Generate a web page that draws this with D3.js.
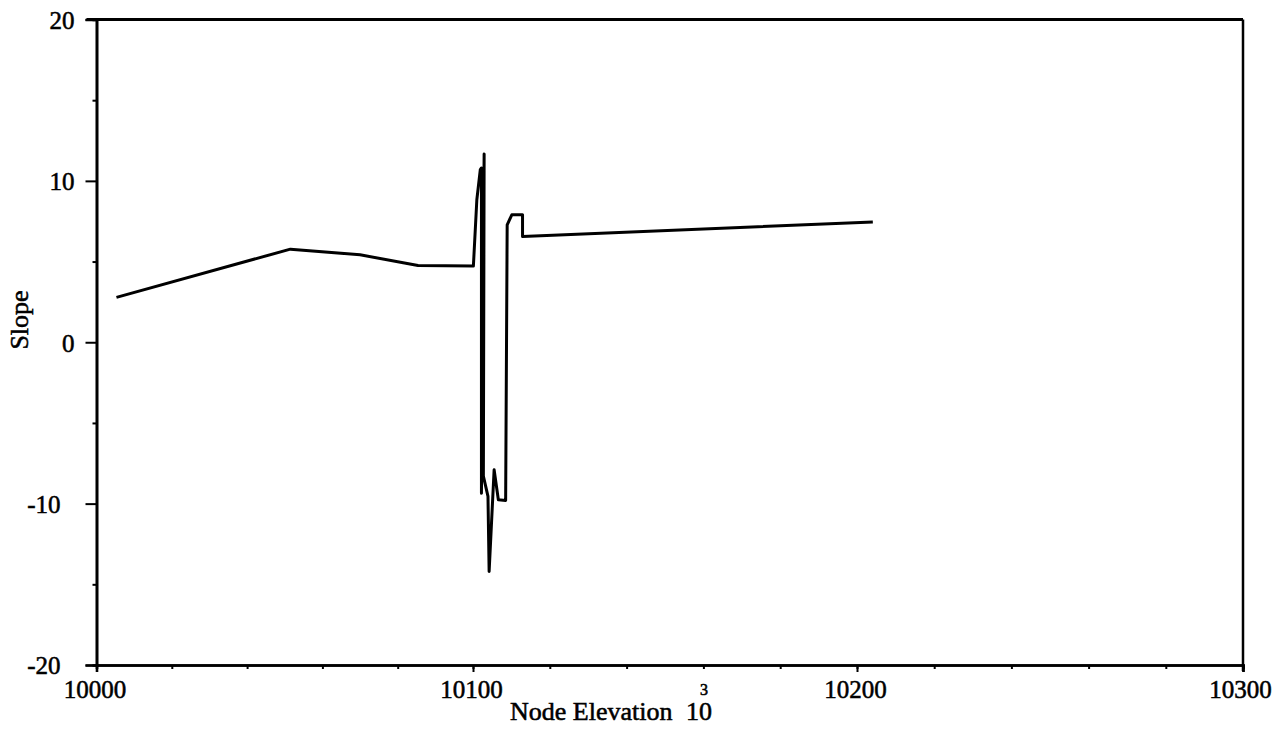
<!DOCTYPE html>
<html>
<head>
<meta charset="utf-8">
<script src="https://cdn.jsdelivr.net/npm/d3@7"></script>
<style>
  html, body { margin: 0; padding: 0; background: #fff; }
  svg { display: block; }
  text { font-family: "Liberation Serif", "Times New Roman", serif; fill: #000; stroke: #000; stroke-width: 0.55px; }
</style>
</head>
<body>
<svg id="chart" width="1286" height="730"></svg>
<script>
// Slope profile against node elevation
const elevation = [10005.3, 10051.5, 10070.0, 10085.4, 10100.1, 10101.0, 10101.9, 10102.2, 10102.2,
                   10102.9, 10102.7, 10103.9, 10104.2, 10105.5, 10106.6, 10108.5, 10108.9, 10110.1,
                   10112.9, 10112.9, 10204.1];
const slope     = [2.78, 5.77, 5.42, 4.75, 4.72, 8.83, 10.7, 10.8, -9.35,
                   11.66, -8.3, -9.55, -14.2, -7.9, -9.76, -9.8, 7.28, 7.9,
                   7.9, 6.55, 7.45];

const xMajorTicks = [10000, 10100, 10200, 10300];
const xMinorTicks = d3.range(10000, 10301, 20);
const yMajorTicks = [-20, -10, 0, 10, 20];
const yMinorTicks = [-15, -5, 5, 15];

const xTitle = "Node Elevation";
const xUnitBase = "10";
const xUnitExp = "3";
const yTitle = "Slope";

const svg = d3.select("#chart");

const x = d3.scaleLinear()
  .domain([10000, 10100, 10200, 10300])
  .range([96.5, 473, 857, 1243]);
const y = d3.scaleLinear()
  .domain([-20, 20])
  .range([665, 19.5]);

const plotLeft = x(10000), plotRight = x(10300), plotTop = y(20), plotBottom = y(-20);

// frame: top and right edges
svg.append("line")
  .attr("x1", plotLeft - 10).attr("x2", plotRight)
  .attr("y1", plotTop).attr("y2", plotTop)
  .attr("stroke", "#000").attr("stroke-width", 3);
svg.append("line")
  .attr("x1", plotRight).attr("x2", plotRight)
  .attr("y1", plotTop).attr("y2", plotBottom + 6)
  .attr("stroke", "#000").attr("stroke-width", 2.5);

// y axis
const yMinor = svg.append("g")
  .attr("transform", `translate(${plotLeft},0)`)
  .call(d3.axisLeft(y).tickValues(yMinorTicks).tickSize(4).tickFormat(""));
const yMajor = svg.append("g")
  .attr("transform", `translate(${plotLeft},0)`)
  .call(d3.axisLeft(y).tickValues(yMajorTicks).tickSize(11).tickFormat(d => String(d)));
yMajor.selectAll("text")
  .attr("x", d => d < 0 ? -36 : -22)
  .attr("dy", "0.35em")
  .style("font-size", "25px");

// x axis
const xMinor = svg.append("g")
  .attr("transform", `translate(0,${plotBottom})`)
  .call(d3.axisBottom(x).tickValues(xMinorTicks).tickSize(4).tickFormat(""));
const xMajor = svg.append("g")
  .attr("transform", `translate(0,${plotBottom})`)
  .call(d3.axisBottom(x).tickValues(xMajorTicks).tickSize(7).tickFormat(d => String(d)));
xMajor.selectAll("text")
  .attr("y", 9)
  .attr("dy", "0.95em")
  .attr("dx", d => d === 10300 ? -3 : -2)
  .style("font-size", "25px");

[yMinor, yMajor, xMinor, xMajor].forEach(g => {
  g.select(".domain").attr("stroke", "#000").attr("stroke-width", 2.6);
  g.selectAll(".tick line").attr("stroke", "#000").attr("stroke-width", 2);
  g.selectAll("text").attr("fill", "#000").attr("stroke", "#000").attr("stroke-width", 0.55)
    .style("font-family", '"Liberation Serif", "Times New Roman", serif');
});

// axis titles
svg.append("text")
  .attr("x", 510).attr("y", 720)
  .style("font-size", "26px")
  .text(xTitle);
svg.append("text")
  .attr("x", 686).attr("y", 720)
  .style("font-size", "26px")
  .text(xUnitBase);
svg.append("text")
  .attr("x", 700).attr("y", 695)
  .style("font-size", "16px")
  .text(xUnitExp);

svg.append("text")
  .attr("transform", "translate(28,320) rotate(-90)")
  .attr("text-anchor", "middle")
  .style("font-size", "26px")
  .text(yTitle);

// data line
const line = d3.line()
  .x((d, i) => x(elevation[i]))
  .y((d, i) => y(slope[i]));

svg.append("path")
  .datum(slope)
  .attr("fill", "none")
  .attr("stroke", "#000")
  .attr("stroke-width", 3)
  .attr("stroke-linejoin", "round")
  .attr("d", line);
</script>
</body>
</html>
